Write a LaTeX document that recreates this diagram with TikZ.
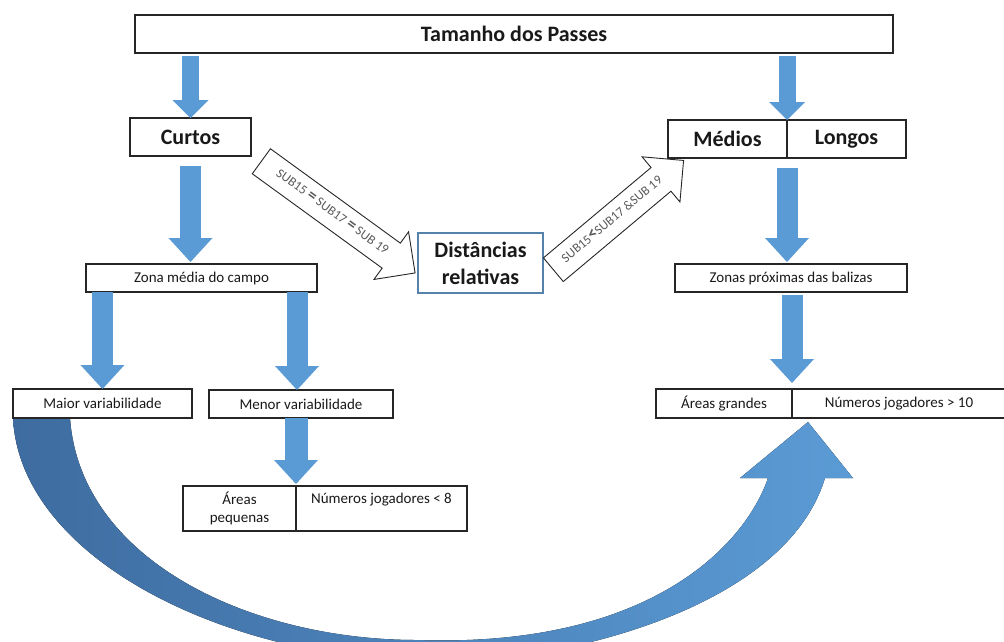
\documentclass[tikz,border=0pt]{standalone}
\usepackage{fontspec}
\setmainfont{Carlito}
\usetikzlibrary{arrows.meta,positioning,shapes.arrows}
\definecolor{flowBlue}{RGB}{91,155,213}
\definecolor{darkBlue}{RGB}{62,108,160}
\definecolor{frameBlue}{RGB}{84,130,170}
\newcommand{\bigsign}[1]{{\fontsize{17}{17}\selectfont\bfseries #1}}
\tikzset{%
	>={Triangle[width=44pt,length=24pt,line width=0pt]},
	% Specifications for style of nodes:
	base/.style = {rectangle, draw=black!85, line width=1.2pt, outer sep=0pt,
		inner sep=0pt, text=black!90, align=center},
	bigbox/.style = {base, minimum height=38pt,
		font=\fontsize{22}{27}\selectfont\bfseries},
	smallbox/.style = {base, minimum height=28pt,
		font=\fontsize{15}{18}\selectfont},
	flow/.style = {->, draw=flowBlue, line width=21pt},
	flowmini/.style = {-{Triangle[width=36pt,length=18pt,line width=0pt]},
		draw=flowBlue, line width=17pt},
	ratio/.style = {single arrow, draw=black!85, fill=white, line width=0.9pt,
		single arrow head extend=14pt, inner ysep=10pt, text height=8pt,
		text depth=2pt, anchor=tail, pos=0,
		font=\fontsize{13}{14}\selectfont, text=black!65},
}
\begin{document}
\begin{tikzpicture}[x=1pt, y=-1pt]
	\useasboundingbox (0,0) rectangle (1004,641);
	\clip (0,0) rectangle (1004,641);
	
	% Curved arrow (drawn first, under the boxes)
	\fill[left color=darkBlue, right color=flowBlue]
		(13,418) .. controls (20,560) and (230,662) .. (440,662)
		.. controls (560,662) and (785,610) .. (825,478)
		-- (853,478) -- (808,422) -- (740,478) -- (768,478)
		.. controls (745,545) and (650,648) .. (417,640)
		.. controls (250,640) and (80,560) .. (70,418) -- cycle;
	
	% Specification of nodes (position, etc.)
	\node (title) [bigbox, minimum width=758pt] at (514,34) {Tamanho dos Passes};
	
	\node (curtos) [bigbox, minimum width=121pt] at (190.5,137) {Curtos};
	
	\node (medios) [bigbox, minimum width=119pt] at (727.5,139) {Médios};
	\node (longos) [bigbox, minimum width=119pt, right=0pt of medios] {Longos};
	
	\node (dist) [bigbox, draw=frameBlue, minimum width=125pt, minimum height=60pt]
		at (480.5,263) {Distâncias\\relativas};
	
	\node (zonaMedia) [smallbox, minimum width=231pt] at (201.5,278) {Zona média do campo};
	\node (zonasProx) [smallbox, minimum width=232pt] at (791,278) {Zonas próximas das balizas};
	
	\node (maior) [smallbox, minimum width=179pt, minimum height=29pt] at (102.5,403.5)
		{Maior variabilidade};
	\node (menor) [smallbox, minimum width=184pt] at (301,404) {Menor variabilidade};
	
	\node (areasPeq) [smallbox, minimum width=113pt, minimum height=45pt] at (239.5,508.5)
		{Áreas\\pequenas};
	\node (numPeq) [smallbox, minimum width=171pt, minimum height=45pt, text height=11pt,
		text depth=21pt, right=0pt of areasPeq] {Números jogadores < 8};
	
	\node (areasGr) [smallbox, minimum width=136pt, minimum height=29pt] at (724,403.5)
		{Áreas grandes};
	\node (numGr) [smallbox, minimum width=214pt, minimum height=29pt, right=0pt of areasGr]
		{Números jogadores > 10};
	
	\coordinate (eqTail) at ([shift={(10pt,-5pt)}]curtos.south east);
	\coordinate (ltTail) at ([shift={(10pt,-7pt)}]dist.east);
	\coordinate (ltTip) at ([shift={(16pt,-3pt)}]medios.south west);
	\coordinate (menorIn) at ([xshift=-4pt]menor.north);
	
	\draw[flowmini, shorten <=3pt] (title.south -| curtos.north) -- (curtos.north);
	\draw[flowmini, shorten <=3pt] (title.south -| medios.north east) -- (medios.north east);
	
	\draw[flow, shorten <=10pt, shorten >=2pt] (curtos.south) -- (curtos.south |- zonaMedia.north);
	\draw[flow, shorten <=10pt, shorten >=2pt] (medios.south east) -- (medios.south east |- zonasProx.north);
	
	\draw[flow] (zonaMedia.south -| maior.north) -- (maior.north);
	\draw[flow] (zonaMedia.south -| menorIn) -- (menorIn);
	
	\draw[flow, line width=23pt, shorten >=2pt] (menor.south -| areasPeq.north east) -- (areasPeq.north east);
	\draw[flow, shorten <=3pt, shorten >=6pt] (zonasProx.south -| areasGr.north east) -- (areasGr.north east);
	
	\path (eqTail) -- (dist.west) node [ratio, rotate=-36, minimum height=190pt]
		{SUB15 \bigsign{=} SUB17 \bigsign{=} SUB 19};
	\path (ltTail) -- (ltTip) node [ratio, rotate=40, minimum height=170pt]
		{SUB15\bigsign{<}SUB17 \&SUB 19};
	
\end{tikzpicture}
\end{document}
